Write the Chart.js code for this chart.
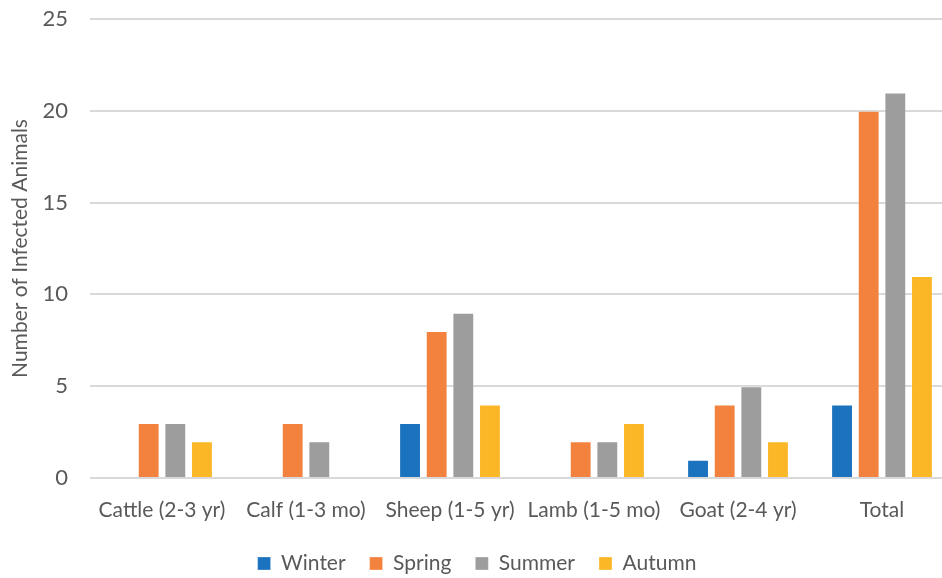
<!DOCTYPE html>
<html>
<head>
<meta charset="utf-8">
<script src="https://cdn.jsdelivr.net/npm/chart.js@4/dist/chart.umd.min.js"></script>
<style>
  html, body { margin: 0; padding: 0; background: #fff; overflow: hidden; }
  #wrap { width: 960px; height: 578px; }
</style>
</head>
<body>
<div id="wrap"><canvas id="seasonChart" width="960" height="578"></canvas></div>
<script>
const categories = ['Cattle (2-3 yr)', 'Calf (1-3 mo)', 'Sheep (1-5 yr)', 'Lamb (1-5 mo)', 'Goat (2-4 yr)', 'Total'];
const winter = [0, 0, 3, 0, 1, 4];
const spring = [3, 3, 8, 2, 4, 20];
const summer = [3, 2, 9, 2, 5, 21];
const autumn = [2, 0, 4, 3, 2, 11];
const yTicks = [0, 5, 10, 15, 20, 25];

const fontFamily = 'Lato, "Open Sans", sans-serif';
const textColor = '#595959';

const makeSet = (label, data, color) => ({
  label: label,
  data: data,
  backgroundColor: color,
  borderColor: 'rgba(255,255,255,0.3)',
  borderWidth: 1,
  barPercentage: 0.82,
  categoryPercentage: 0.74,
});

const ctx = document.getElementById('seasonChart').getContext('2d');
new Chart(ctx, {
  type: 'bar',
  data: {
    labels: categories,
    datasets: [
      makeSet('Winter', winter, '#1B72BE'),
      makeSet('Spring', spring, '#F4823F'),
      makeSet('Summer', summer, '#9D9D9D'),
      makeSet('Autumn', autumn, '#FBB726'),
    ],
  },
  options: {
    responsive: false,
    animation: false,
    layout: { padding: { top: 19, right: 6, left: 0, bottom: -6 } },
    plugins: {
      tooltip: { enabled: false },
      legend: {
        position: 'bottom',
        labels: {
          font: { family: fontFamily, size: 21 },
          color: textColor,
          boxWidth: 13,
          boxHeight: 13,
          padding: 24,
        },
      },
    },
    scales: {
      x: {
        grid: { display: false },
        border: { display: false },
        ticks: {
          font: { family: fontFamily, size: 21 },
          color: textColor,
          padding: 12,
          maxRotation: 0,
          autoSkip: false,
        },
        afterFit: (scale) => { scale.height = 51; },
      },
      y: {
        min: 0,
        max: 25,
        afterBuildTicks: (scale) => { scale.ticks = yTicks.map(v => ({ value: v })); },
        grid: { color: '#D9D9D9', lineWidth: 2, drawTicks: false },
        border: { display: false },
        ticks: {
          font: { family: fontFamily, size: 22 },
          color: textColor,
          padding: 22,
        },
        title: {
          display: true,
          text: 'Number of Infected Animals',
          font: { family: fontFamily, size: 21 },
          color: textColor,
          padding: { top: 8, bottom: 0 },
        },
        afterFit: (scale) => {
          scale.width = 90;
          scale.paddingTop = 0;
          scale.paddingBottom = 0;
        },
      },
    },
  },
});
</script>
</body>
</html>
